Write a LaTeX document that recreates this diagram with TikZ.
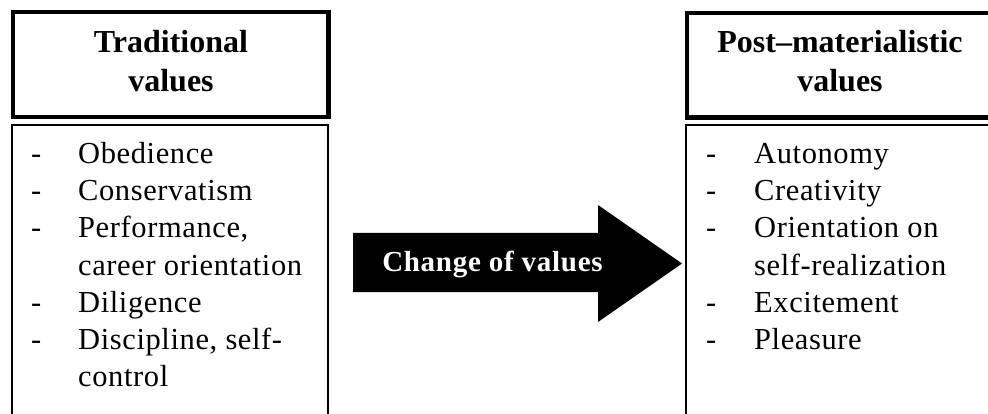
\documentclass[tikz,border=0pt]{standalone}
\usepackage{fontspec}
\setmainfont{Liberation Serif}
\newfontfamily\spacedserif[LetterSpace=2]{Liberation Serif}
\newfontfamily\spacedbold[LetterSpace=2.5]{Liberation Serif Bold}
\begin{document}
\begin{tikzpicture}[x=1pt, y=-1pt,
  headbox/.style={draw=black, line width=4.5pt, fill=white},
  listbox/.style={draw=black, line width=2.2pt},
  titletext/.style={anchor=base, inner sep=0pt, font=\fontsize{32}{39}\selectfont\bfseries},
  itemtext/.style={anchor=base west, inner sep=0pt, font=\spacedserif\fontsize{30.5}{37}\selectfont},
  arrowtext/.style={anchor=base, inner sep=0pt, text=white, font=\spacedbold\fontsize{29}{35}\selectfont}]
  \useasboundingbox (0,0) rectangle (988,414);
  \clip (0,0) rectangle (988,414);
  \fill[white] (0,0) rectangle (988,414);

  % left column: heading and list
  \draw[headbox] (13,12.2) rectangle (328.5,117);
  \draw[listbox] (12.2,125.3) rectangle (328.3,430);
  \node[titletext] (lt1) at (171,53) {Traditional};
  \node[titletext] (lt2) at (171,92) {values};

  \node[itemtext] (ld1) at (31,164) {-};
  \node[itemtext] (li1) at (78,164) {Obedience};
  \node[itemtext] (ld2) at (31,201) {-};
  \node[itemtext] (li2) at (78,201) {Conservatism};
  \node[itemtext] (ld3) at (31,238) {-};
  \node[itemtext] (li3) at (78,238) {Performance,};
  \node[itemtext] (li4) at (78,275) {career orientation};
  \node[itemtext] (ld5) at (31,312) {-};
  \node[itemtext] (li5) at (78,312) {Diligence};
  \node[itemtext] (ld6) at (31,349) {-};
  \node[itemtext] (li6) at (78,349) {Discipline, self-};
  \node[itemtext] (li7) at (78,386) {control};

  % right column: heading and list
  \draw[headbox] (687,13) rectangle (1000,117.5);
  \draw[listbox] (686,125.3) rectangle (1000,430);
  \node[titletext] (rt1) at (840,53) {Post–materialistic};
  \node[titletext] (rt2) at (840,92) {values};

  \node[itemtext] (rd1) at (706,164) {-};
  \node[itemtext] (ri1) at (754,164) {Autonomy};
  \node[itemtext] (rd2) at (706,201) {-};
  \node[itemtext] (ri2) at (754,201) {Creativity};
  \node[itemtext] (rd3) at (706,238) {-};
  \node[itemtext] (ri3) at (754,238) {Orientation on};
  \node[itemtext] (ri4) at (754,275) {self-realization};
  \node[itemtext] (rd5) at (706,312) {-};
  \node[itemtext] (ri5) at (754,312) {Excitement};
  \node[itemtext] (rd6) at (706,349) {-};
  \node[itemtext] (ri6) at (754,349) {Pleasure};

  % block arrow between the columns
  \fill[black] (353,233) -- (598,233) -- (598,205) -- (682,263.5)
               -- (598,322) -- (598,292) -- (353,292) -- cycle;
  \node[arrowtext] (change) at (492.5,271) {Change of values};
\end{tikzpicture}
\end{document}
